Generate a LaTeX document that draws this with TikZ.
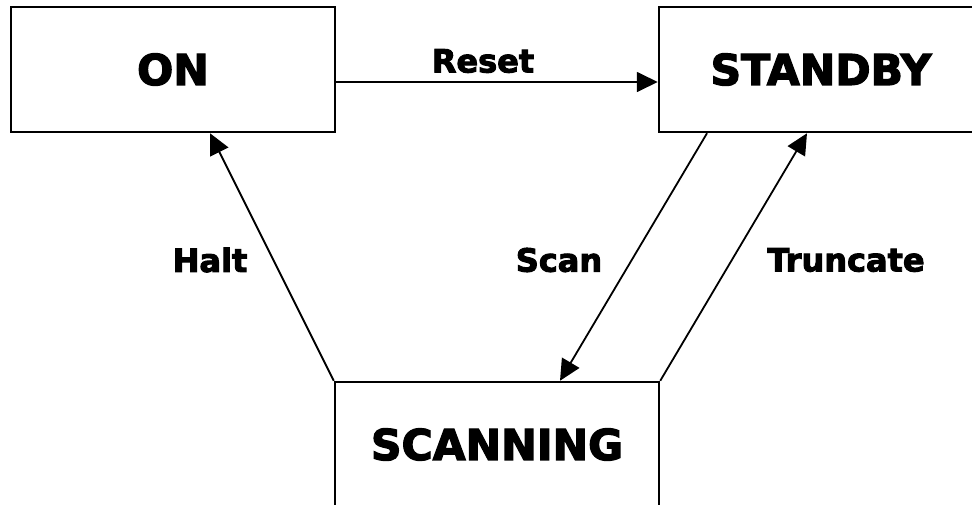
\documentclass[tikz,border=0pt]{standalone}
\usepackage{fontspec}
\setmainfont{DejaVu Sans}[BoldFeatures={FakeBold=3}]
\usetikzlibrary{arrows.meta}

\begin{document}
\begin{tikzpicture}[
		x=1pt, y=-1pt,
		state/.style={draw, line width=2.5pt, minimum width=324pt, minimum height=125pt, inner sep=0pt,
			font=\fontsize{42.5}{50}\selectfont\bfseries},
		lbl/.style={font=\fontsize{32}{38}\selectfont\bfseries},
		trans/.style={line width=1.8pt, -{Triangle[length=21pt, width=20pt]}}
	]
		\useasboundingbox (0,0) rectangle (972,504);
		\clip (0,0) rectangle (972,504);

		\node[state] (on) at (173, 69.5) {ON};
		\node[state] (standby) at (821, 69.5) {STANDBY};
		\node[state] (scanning) at (497, 444.5) {SCANNING};

		\draw[trans] ([yshift=-12.5pt]on.east) -- ([yshift=-12.5pt]standby.west);
		\draw[trans] (scanning.north west) -- ([xshift=37pt]on.south);
		\draw[trans] ([xshift=-114pt]standby.south) -- ([xshift=63pt]scanning.north);
		\draw[trans] (scanning.north east) -- ([xshift=-14pt]standby.south);

		\node[lbl] (reset) at (483, 61) {Reset};
		\node[lbl] (halt) at (210, 260) {Halt};
		\node[lbl] (scan) at (559, 260) {Scan};
		\node[lbl] (truncate) at (846, 260) {Truncate};
	\end{tikzpicture}
\end{document}
